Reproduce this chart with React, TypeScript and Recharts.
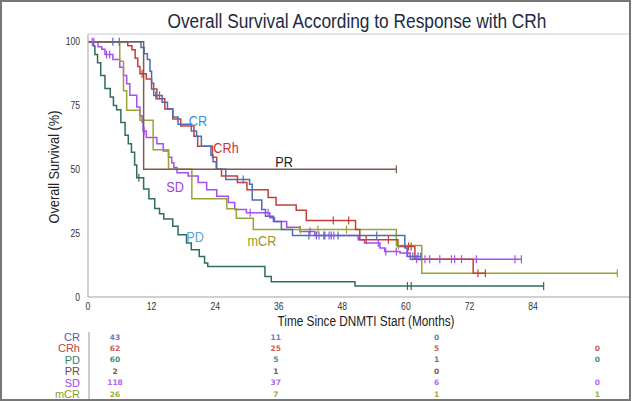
import React from 'react';
import { LineChart, Line, XAxis, YAxis, ReferenceArea } from 'recharts';

type Pt = [number, number, number?];

// [time (months), survival (%), censored flag]
const crData: Pt[] = [
  [0, 100], [4.7, 100, 1], [5.9, 100, 1], [10, 97.7], [10.6, 95.3], [11.2, 93], [11.7, 88.4],
  [12, 83.7], [12.4, 78.9], [12.8, 78.9, 1], [13.5, 78.9, 1], [14, 76.3], [15, 73.6],
  [16, 70.5], [17, 67.7], [19.5, 65], [20.5, 63], [21.4, 59], [23.2, 55.5], [23.6, 53],
  [24.2, 50], [26, 46], [29.3, 46, 1], [30.5, 44.2], [31, 38], [32.8, 34.3], [33.5, 31.6],
  [35, 29.6], [36.5, 26.4], [38.6, 24.1], [41.7, 24.1, 1], [43.1, 24.1, 1], [44.7, 24.1, 1],
  [45.9, 24.1, 1], [47.2, 24.1, 1], [54.5, 24.1, 1], [59.8, 19.2], [60.3, 15.9],
  [61.3, 15.9, 1], [62.3, 15.9, 1], [62.8, 15.9, 1],
];

const crhData: Pt[] = [
  [0, 100], [7.5, 98.4], [8.3, 96.8], [8.9, 93.5], [9.4, 90.3], [9.8, 87.4], [10.2, 87.4, 1],
  [11, 85.4], [12, 81.5], [13, 77.6], [14.5, 73.6], [16, 69.7], [17.5, 67], [20, 63],
  [20.7, 59], [23.5, 54.7], [24.3, 50], [25.2, 47.4], [28.2, 44.8], [30, 42], [34, 39],
  [35.5, 36], [39.3, 34], [41.2, 30], [46.3, 30, 1], [49.2, 30, 1], [50.5, 26.4],
  [51.3, 22.4], [52.5, 22.4, 1], [56.7, 22.4, 1], [58.5, 19.8], [60.5, 19.8, 1],
  [61, 19.8, 1], [61.7, 14.8], [72.7, 9.3], [73.6, 9.3, 1], [75, 9.3, 1],
];

const pdData: Pt[] = [
  [0, 100], [1, 98.3], [1.3, 95], [1.8, 91.7], [2.4, 86.7], [3.2, 81.7], [4.2, 78.3],
  [4.8, 75], [5.4, 73.3], [6.2, 68.3], [7, 63.3], [7.6, 60], [8.2, 56.7], [8.8, 51.7],
  [9.2, 46.7], [9.6, 46.7, 1], [10.5, 42.3], [11.5, 38.5], [12.6, 34.7], [13.5, 32.6],
  [14.3, 30.5], [16, 27.7], [17, 24.4], [18.6, 21.1], [19.5, 18.5], [21, 15.9], [22, 13.3],
  [22.6, 11.9], [33.4, 8], [34.6, 6], [50.4, 4.3], [60.3, 4.3, 1], [61, 4.3, 1], [86, 4.3, 1],
];

const prData: Pt[] = [
  [0, 100], [10.5, 50], [58.2, 50, 1],
];

const sdData: Pt[] = [
  [0, 100], [0.8, 100, 1], [1.1, 100, 1], [1.9, 98], [2.6, 97], [3.2, 95], [3.5, 95, 1],
  [4.1, 95, 1], [4.7, 93], [6, 90], [6.7, 86.7], [7.3, 83.5], [7.9, 79], [9.2, 74.4],
  [9.8, 71], [10.2, 68.5], [10.4, 65], [10.6, 65, 1], [11, 62.5], [13, 60], [14.2, 57.2],
  [15.2, 54.7], [15.8, 52.6], [16.2, 50.7], [16.8, 48.7], [18.9, 47.4], [20.8, 44.8],
  [22.4, 42], [24.3, 39.5], [26.5, 37], [27.7, 34.3], [29.9, 33], [30.6, 33, 1],
  [34, 33, 1], [34.3, 31], [35.2, 29.6], [37.5, 27.3], [40, 25.7], [41.9, 25.7, 1],
  [42.8, 24.1], [43.6, 24.1, 1], [44.5, 24.1, 1], [45.5, 24.1, 1], [46.4, 24.1, 1],
  [51, 22.4], [52.2, 21.1], [54.8, 21.1, 1], [55.1, 19.2], [56, 17.8], [56.2, 17.8, 1],
  [58.2, 17.8, 1], [58.9, 17.2], [60.2, 17.2, 1], [60.8, 14.8], [62, 14.8, 1],
  [63.6, 14.8, 1], [64.5, 14.8, 1], [66.4, 14.8, 1], [68.6, 14.8, 1], [69.2, 14.8, 1],
  [70.5, 14.8, 1], [73.3, 14.8, 1], [80.6, 14.8, 1], [81.8, 14.8, 1],
];

const mcrData: Pt[] = [
  [0, 100], [6, 92.3], [6.7, 80.8], [7.3, 73.1], [9.8, 69.2], [12.3, 57.7], [15.2, 50],
  [19.6, 38.5], [26.2, 34.6], [28, 30.8], [31.2, 26.4], [40.1, 26.4, 1], [43.4, 26.4, 1],
  [48.8, 26.4, 1], [58.2, 20.2], [58.6, 20.2, 1], [63, 9.3], [99.9, 9.3, 1],
];

const xTicks = [0, 12, 24, 36, 48, 60, 72, 84];
const yTicks = [0, 25, 50, 75, 100];

// Number-at-risk table
const riskGroups = ['CR', 'CRh', 'PD', 'PR', 'SD', 'mCR'];
const riskTimes = [0, 30, 60, 90];
const riskCR = ['43', '11', '0', ''];
const riskCRh = ['62', '25', '5', '0'];
const riskPD = ['60', '5', '1', '0'];
const riskPR = ['2', '1', '0', ''];
const riskSD = ['118', '37', '6', '0'];
const riskMCR = ['26', '7', '1', '1'];
const riskCounts = [riskCR, riskCRh, riskPD, riskPR, riskSD, riskMCR];

const labelColors = ['#4f5ea8', '#b8453c', '#2e7f6c', '#6e4b3e', '#a345e8', '#8b9a2c'];
const numColors = ['#6f7cc4', '#c9625a', '#3f8f7c', '#7d5a4a', '#b467f2', '#9aab3f'];

const FS = "'Liberation Sans',Arial,sans-serif";
const NARROW = 0.82;

const toRows = (pts: Pt[]) => pts.map(([t, s, c]) => ({ t, s, c: c ? 1 : 0 }));

const NText = ({ x, y, sx = NARROW, children, ...rest }: any) => (
  <g transform={`translate(${x},${y}) scale(${sx},1)`}>
    <text x={0} y={0} fontFamily={FS} {...rest}>
      {children}
    </text>
  </g>
);

const XTick = (props: any) => {
  const { x, y, payload } = props;
  return (
    <NText x={x} y={y} dy="0.71em" textAnchor="middle" fontSize={10.5} fill="#333">
      {payload.value}
    </NText>
  );
};

const YTick = (props: any) => {
  const { x, y, payload } = props;
  return (
    <NText x={x} y={y} dy="0.355em" textAnchor="end" fontSize={10.5} fill="#333">
      {payload.value}
    </NText>
  );
};

const censorDot = (color: string) => (props: any) => {
  const { cx, cy, payload, index } = props;
  if (!payload || !payload.c) return <g key={`n${index}`} />;
  return (
    <line key={`c${index}`} x1={cx} x2={cx} y1={cy - 4} y2={cy + 4} stroke={color} strokeWidth={1.2} />
  );
};

const series = [
  { name: 'PD', data: pdData, color: '#2f6d5d' },
  { name: 'SD', data: sdData, color: '#a54ff0' },
  { name: 'mCR', data: mcrData, color: '#9aa33a' },
  { name: 'CRh', data: crhData, color: '#c63f37' },
  { name: 'CR', data: crData, color: '#4d6cb8' },
  { name: 'PR', data: prData, color: '#7d5c55' },
];

const curveLabels = [
  { text: 'CR', x: 198, y: 121, color: '#3a8fd8' },
  { text: 'CRh', x: 226, y: 148, color: '#cc3333' },
  { text: 'PR', x: 284, y: 162, color: '#222222' },
  { text: 'SD', x: 175, y: 187, color: '#a040e0' },
  { text: 'PD', x: 195, y: 237, color: '#5aa5d5' },
  { text: 'mCR', x: 262, y: 241, color: '#9a9a20' },
];

const riskX = (t: number) => 115 + t * 5.36;
const riskRowY = (i: number) => 337 + i * 11.4;

export default function App() {
  return (
    <div
      style={{
        position: 'absolute',
        left: 0,
        top: 0,
        width: 632,
        height: 401,
        background: '#ffffff',
      }}
    >
      <LineChart width={632} height={401} margin={{ top: 34, right: 2, bottom: 74, left: 0 }}>
        <ReferenceArea x1={0} x2={102.3} y1={0} y2={103} fill="none" stroke="#c8c8c8" strokeWidth={1} ifOverflow="visible" />
        <XAxis
          type="number"
          dataKey="t"
          domain={[0, 102.3]}
          ticks={xTicks}
          allowDataOverflow
          height={30}
          axisLine={{ stroke: '#bdbdbd' }}
          tickLine={false}
          tickSize={6}
          tickMargin={0}
          tick={<XTick />}
        />
        <YAxis
          type="number"
          domain={[0, 103]}
          ticks={yTicks}
          allowDataOverflow
          width={88}
          axisLine={{ stroke: '#bdbdbd' }}
          tickLine={false}
          tickSize={6}
          tickMargin={2}
          tick={<YTick />}
        />
        {series.map((s) => (
          <Line
            key={s.name}
            data={toRows(s.data)}
            dataKey="s"
            type="stepAfter"
            stroke={s.color}
            strokeWidth={1.5}
            dot={censorDot(s.color)}
            activeDot={false}
            isAnimationActive={false}
          />
        ))}
      </LineChart>
      <svg
        width={632}
        height={401}
        style={{ position: 'absolute', left: 0, top: 0, pointerEvents: 'none' }}
      >
        <text
          x={357}
          y={28}
          textAnchor="middle"
          fontFamily={FS}
          fontSize={19.5}
          fill="#1c2b45"
          textLength={379}
          lengthAdjust="spacingAndGlyphs"
        >
          Overall Survival According to Response with CRh
        </text>
        <text
          x={0}
          y={0}
          transform="translate(58.5,167) rotate(-90)"
          textAnchor="middle"
          fontFamily={FS}
          fontSize={15.5}
          fill="#222"
          textLength={113}
          lengthAdjust="spacingAndGlyphs"
        >
          Overall Survival (%)
        </text>
        <text
          x={366}
          y={325.5}
          textAnchor="middle"
          fontFamily={FS}
          fontSize={14}
          fill="#222"
          textLength={177}
          lengthAdjust="spacingAndGlyphs"
        >
          Time Since DNMTI Start (Months)
        </text>
        {curveLabels.map((l) => (
          <NText
            key={l.text}
            x={l.x}
            y={l.y}
            textAnchor="middle"
            dominantBaseline="central"
            fontSize={15.5}
            fill={l.color}
          >
            {l.text}
          </NText>
        ))}
        <line x1={89} x2={89} y1={332} y2={400} stroke="#9a9a9a" strokeWidth={1} />
        {riskGroups.map((g, i) => (
          <g key={g}>
            <text
              x={80}
              y={riskRowY(i)}
              textAnchor="end"
              dominantBaseline="central"
              fontFamily={FS}
              fontSize={11}
              fill={labelColors[i]}
            >
              {g}
            </text>
            {riskCounts[i].map((v, j) =>
              v === '' ? null : (
                <text
                  key={j}
                  x={riskX(riskTimes[j])}
                  y={riskRowY(i)}
                  textAnchor="middle"
                  dominantBaseline="central"
                  fontFamily="'DejaVu Sans',Verdana,sans-serif"
                  fontWeight="bold"
                  fontSize={7.5}
                  fill={numColors[i]}
                >
                  {v}
                </text>
              )
            )}
          </g>
        ))}
        <rect x={1} y={1} width={629} height={399} fill="none" stroke="#777" strokeWidth={2} />
      </svg>
    </div>
  );
}
